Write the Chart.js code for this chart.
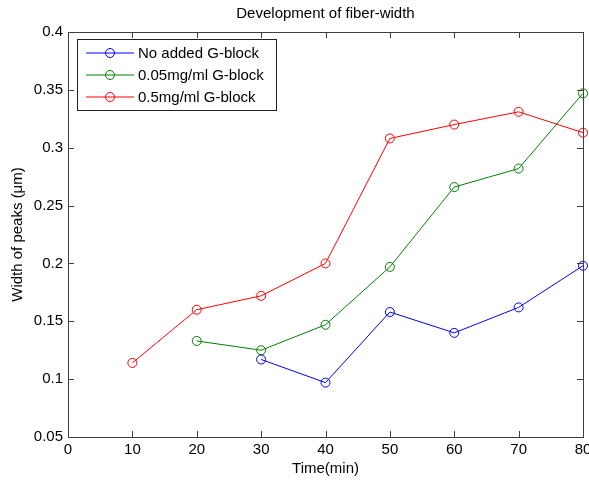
<!DOCTYPE html>
<html>
<head>
<meta charset="utf-8">
<script src="https://cdn.jsdelivr.net/npm/chart.js@4"></script>
<style>
  body { margin: 0; background: #fff; }
  canvas { display: block; }
</style>
</head>
<body>
<canvas id="fiberChart" width="589" height="482"></canvas>
<script>
const times = [10, 20, 30, 40, 50, 60, 70, 80];
const noAdded = [null, null, 0.117, 0.097, 0.158, 0.140, 0.162, 0.198];
const lowGBlock = [null, 0.133, 0.125, 0.147, 0.197, 0.266, 0.282, 0.347];
const highGBlock = [0.114, 0.160, 0.172, 0.200, 0.308, 0.320, 0.331, 0.313];
const seriesLabels = ['No added G-block', '0.05mg/ml G-block', '0.5mg/ml G-block'];
const seriesColors = ['#0000ff', '#008000', '#ff0000'];

const font = "'Liberation Sans', Arial, Helvetica, sans-serif";

function toPoints(values) {
  return times.map((t, i) => ({ x: t, y: values[i] })).filter(p => p.y !== null);
}

// MATLAB-style box with inward ticks on all four sides
const boxPlugin = {
  id: 'box',
  afterDraw(chart) {
    const { ctx, chartArea: a, scales } = chart;
    const len = 6;
    ctx.save();
    ctx.strokeStyle = '#404040';
    ctx.lineWidth = 1;
    ctx.strokeRect(Math.round(a.left) + 0.5, Math.round(a.top) + 0.5,
      Math.round(a.right - a.left), Math.round(a.bottom - a.top));
    ctx.beginPath();
    scales.x.ticks.forEach(t => {
      const px = Math.round(scales.x.getPixelForValue(t.value)) + 0.5;
      ctx.moveTo(px, a.bottom); ctx.lineTo(px, a.bottom - len);
      ctx.moveTo(px, a.top); ctx.lineTo(px, a.top + len);
    });
    scales.y.ticks.forEach(t => {
      const py = Math.round(scales.y.getPixelForValue(t.value)) + 0.5;
      ctx.moveTo(a.left, py); ctx.lineTo(a.left + len, py);
      ctx.moveTo(a.right, py); ctx.lineTo(a.right - len, py);
    });
    ctx.stroke();

    // legend in upper-left corner of the axes
    const lx = a.left + 9, ly = a.top + 7, lw = 199, rowH = 22;
    const lh = rowH * chart.data.datasets.length + 5;
    ctx.fillStyle = '#fff';
    ctx.fillRect(lx, ly, lw, lh);
    ctx.strokeStyle = '#202020';
    ctx.strokeRect(lx + 0.5, ly + 0.5, lw, lh);
    ctx.font = '15px ' + font;
    ctx.textBaseline = 'middle';
    chart.data.datasets.forEach((ds, i) => {
      const y = ly + 14 + rowH * i;
      ctx.strokeStyle = ds.borderColor;
      ctx.beginPath();
      ctx.moveTo(lx + 9, y); ctx.lineTo(lx + 57, y);
      ctx.stroke();
      ctx.beginPath();
      ctx.arc(lx + 33, y, 4.5, 0, Math.PI * 2);
      ctx.stroke();
      ctx.fillStyle = '#000';
      ctx.fillText(ds.label, lx + 61, y + 1);
    });
    ctx.restore();
  }
};

new Chart(document.getElementById('fiberChart').getContext('2d'), {
  type: 'line',
  data: {
    datasets: [noAdded, lowGBlock, highGBlock].map((vals, i) => ({
      label: seriesLabels[i],
      data: toPoints(vals),
      borderColor: seriesColors[i],
      backgroundColor: 'rgba(0,0,0,0)',
      pointBackgroundColor: 'rgba(0,0,0,0)',
      pointBorderColor: seriesColors[i],
      borderWidth: 1,
      pointBorderWidth: 1,
      pointRadius: 4.5,
      tension: 0,
      clip: false
    }))
  },
  options: {
    responsive: false,
    animation: false,
    layout: { padding: { left: 0, right: 6, top: 0, bottom: 0 } },
    plugins: {
      legend: { display: false },
      tooltip: { enabled: false },
      title: {
        display: true,
        text: 'Development of fiber-width',
        fullSize: false,
        color: '#000',
        font: { family: font, size: 15, weight: 'normal' },
        padding: { top: 5, bottom: 9 }
      }
    },
    scales: {
      x: {
        type: 'linear',
        min: 0,
        max: 80,
        grid: { display: false, drawTicks: false },
        border: { display: false },
        ticks: {
          stepSize: 10,
          autoSkip: false,
          maxRotation: 0,
          padding: 4,
          color: '#000',
          font: { family: font, size: 15 }
        },
        title: {
          display: true,
          text: 'Time(min)',
          color: '#000',
          font: { family: font, size: 15 },
          padding: { top: 0, bottom: 4 }
        },
        afterFit(scale) {
          scale.height = 45;
          scale.paddingLeft = 0;
          scale.paddingRight = 0;
        }
      },
      y: {
        type: 'linear',
        min: 0.05,
        max: 0.4,
        grid: { display: false, drawTicks: false },
        border: { display: false },
        ticks: {
          stepSize: 0.05,
          autoSkip: false,
          padding: 5,
          color: '#000',
          font: { family: font, size: 15 },
          callback: v => String(Math.round(v * 100) / 100)
        },
        title: {
          display: true,
          text: 'Width of peaks (μm)',
          color: '#000',
          font: { family: font, size: 15 },
          padding: { top: 9, bottom: 0 }
        },
        afterFit(scale) {
          scale.width = 68;
          scale.paddingTop = 0;
          scale.paddingBottom = 0;
        }
      }
    }
  },
  plugins: [boxPlugin]
});
</script>
</body>
</html>
